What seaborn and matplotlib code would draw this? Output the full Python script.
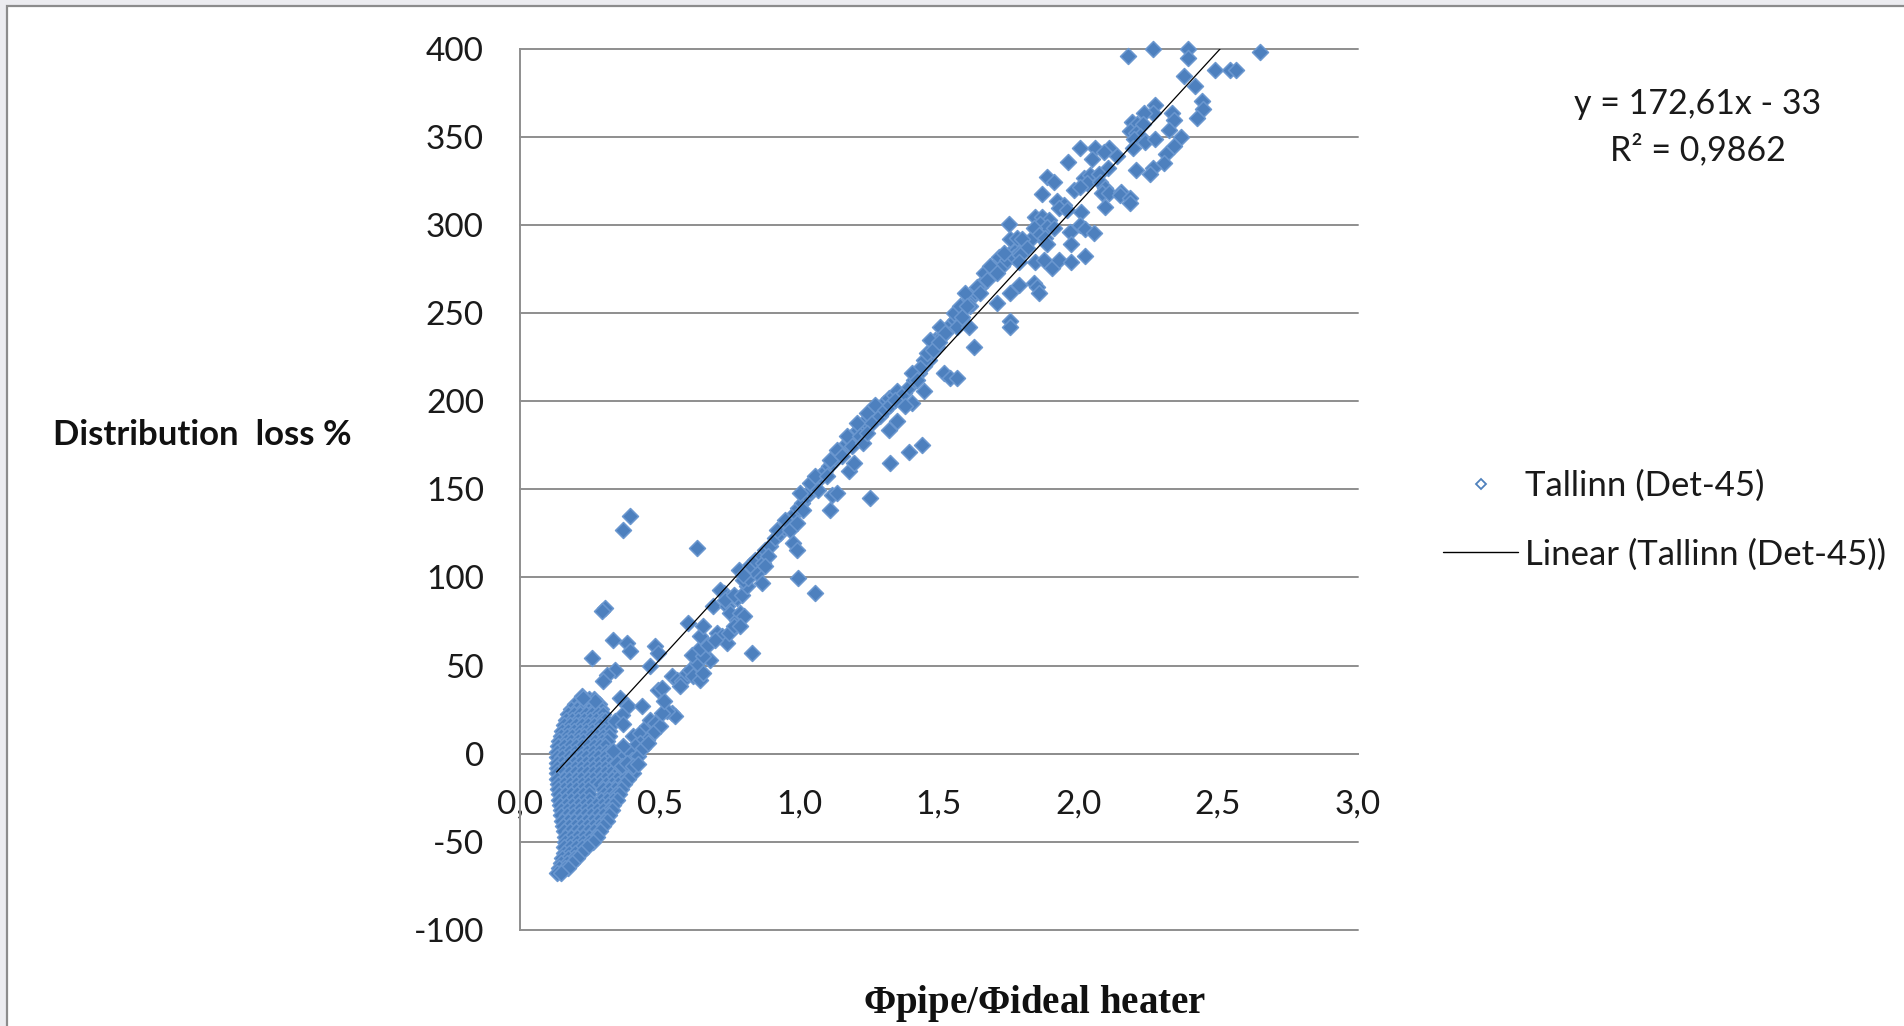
import matplotlib
matplotlib.use("Agg")
import numpy as np
import pandas as pd
import seaborn as sns
import matplotlib.pyplot as plt
from matplotlib.lines import Line2D
from matplotlib.patches import Rectangle

# ---------------------------------------------------------------------------
# Data: heat distribution loss (%) vs. ratio of pipe heat to ideal heater heat
# ---------------------------------------------------------------------------

# dense cloud of low-ratio buildings: (loss level, [ratios at that level])
cloud_rows = [
    (31.0, [0.219, 0.246, 0.266]),
    (28.2, [0.198, 0.217, 0.241, 0.260, 0.282]),
    (25.1, [0.182, 0.205, 0.224, 0.250, 0.268, 0.290]),
    (22.3, [0.171, 0.194, 0.214, 0.237, 0.257, 0.280, 0.299]),
    (19.0, [0.164, 0.185, 0.208, 0.228, 0.251, 0.271, 0.294, 0.306]),
    (16.2, [0.157, 0.180, 0.200, 0.223, 0.243, 0.266, 0.286, 0.310]),
    (13.1, [0.151, 0.172, 0.195, 0.215, 0.238, 0.258, 0.281, 0.301, 0.317]),
    (10.2, [0.146, 0.168, 0.188, 0.211, 0.231, 0.254, 0.274, 0.297, 0.319]),
    (7.0, [0.141, 0.163, 0.183, 0.206, 0.226, 0.249, 0.269, 0.292, 0.312]),
    (4.1, [0.137, 0.159, 0.179, 0.202, 0.222, 0.245, 0.265, 0.288, 0.305]),
    (1.0, [0.134, 0.155, 0.177, 0.197, 0.220, 0.240, 0.263, 0.283, 0.307, 0.322]),
    (-2.1, [0.132, 0.152, 0.175, 0.195, 0.218, 0.238, 0.261, 0.281, 0.304, 0.326]),
    (-5.0, [0.131, 0.151, 0.173, 0.194, 0.216, 0.237, 0.259, 0.280, 0.302, 0.323, 0.343]),
    (-8.1, [0.132, 0.154, 0.174, 0.197, 0.217, 0.240, 0.260, 0.283, 0.303, 0.326, 0.346, 0.362]),
    (-11.0, [0.133, 0.155, 0.176, 0.198, 0.219, 0.241, 0.262, 0.284, 0.305, 0.327, 0.348,
             0.369, 0.390, 0.405]),
    (-14.1, [0.134, 0.156, 0.177, 0.199, 0.220, 0.242, 0.263, 0.285, 0.306, 0.328, 0.349,
             0.371, 0.386]),
    (-17.0, [0.135, 0.157, 0.178, 0.200, 0.221, 0.243, 0.264, 0.286, 0.307, 0.329, 0.350, 0.372]),
    (-20.1, [0.137, 0.158, 0.180, 0.201, 0.223, 0.244, 0.296, 0.318, 0.339, 0.361]),
    (-23.0, [0.139, 0.160, 0.182, 0.203, 0.225, 0.246, 0.300, 0.321, 0.343, 0.355]),
    (-26.1, [0.141, 0.162, 0.184, 0.205, 0.227, 0.248, 0.290, 0.311, 0.333, 0.347]),
    (-29.0, [0.143, 0.164, 0.186, 0.207, 0.229, 0.250, 0.272, 0.293, 0.315, 0.333]),
    (-32.1, [0.146, 0.167, 0.189, 0.210, 0.232, 0.253, 0.275, 0.296, 0.318, 0.330]),
    (-35.0, [0.148, 0.169, 0.191, 0.212, 0.234, 0.255, 0.277, 0.298, 0.317]),
    (-38.1, [0.152, 0.173, 0.195, 0.216, 0.238, 0.259, 0.281, 0.300, 0.310]),
    (-41.0, [0.155, 0.176, 0.198, 0.219, 0.241, 0.262, 0.284, 0.297]),
    (-44.1, [0.158, 0.180, 0.201, 0.223, 0.244, 0.266, 0.287]),
    (-47.0, [0.160, 0.181, 0.203, 0.224, 0.246, 0.267, 0.275]),
    (-50.1, [0.160, 0.181, 0.203, 0.224, 0.246, 0.262]),
    (-53.0, [0.158, 0.179, 0.201, 0.222, 0.240]),
    (-56.1, [0.156, 0.177, 0.198, 0.218]),
    (-59.0, [0.151, 0.172, 0.193, 0.205]),
    (-62.1, [0.146, 0.167, 0.187]),
    (-65.0, [0.140, 0.160, 0.172]),
    (-67.5, [0.133, 0.148]),
]

# ratio 0.2 - 0.85
low_points = [
    (0.257, 54.3), (0.221, 32.6), (0.269, 29.8), (0.227, 31.7),
    (0.394, 134.7), (0.368, 127.1), (0.633, 116.7), (0.305, 82.7), (0.293, 80.8),
    (0.334, 64.7), (0.382, 62.8), (0.394, 58.1), (0.340, 47.7), (0.311, 44.9), (0.299, 41.1),
    (0.484, 61.0), (0.496, 57.2), (0.466, 49.6), (0.358, 31.7), (0.388, 27.0), (0.436, 27.0),
    (0.364, 22.2), (0.341, 18.4), (0.370, 16.6),
    (0.406, 9.9), (0.430, 11.8), (0.454, 15.6), (0.466, 19.4), (0.484, 17.5), (0.502, 15.6),
    (0.478, 11.8), (0.454, 8.0), (0.430, 6.1), (0.412, 4.3), (0.388, 1.4), (0.370, 4.3),
    (0.352, -1.4), (0.334, 1.4), (0.400, -3.3), (0.424, -1.4), (0.442, 3.3), (0.460, 6.1),
    (0.346, -5.2), (0.364, -7.1), (0.382, -5.2), (0.406, -7.1), (0.424, -6.1),
    (0.544, 23.2), (0.556, 21.3), (0.526, 24.1), (0.508, 23.2), (0.496, 36.4), (0.508, 37.3),
    (0.514, 29.8), (0.544, 43.9), (0.562, 42.1), (0.580, 41.1), (0.574, 38.3), (0.597, 45.8),
    (0.609, 47.7), (0.621, 43.9), (0.645, 42.1), (0.657, 45.8), (0.633, 51.5), (0.615, 56.2),
    (0.681, 53.4), (0.657, 55.3), (0.645, 60.0), (0.675, 61.9), (0.705, 68.5), (0.723, 66.6),
    (0.741, 62.8), (0.699, 64.7), (0.747, 68.5), (0.645, 66.6), (0.657, 72.3), (0.603, 74.2),
    (0.693, 83.6), (0.741, 83.6), (0.753, 79.9), (0.777, 76.1), (0.789, 79.9), (0.801, 78.0),
    (0.765, 72.3), (0.789, 72.3), (0.777, 88.4), (0.729, 91.2), (0.717, 93.1), (0.735, 87.4),
    (0.765, 90.3), (0.795, 90.3), (0.812, 95.0), (0.800, 98.7), (0.818, 99.7), (0.830, 57.2),
    (0.848, 102.5), (0.836, 104.4), (0.783, 104.4), (0.824, 107.3), (0.842, 110.1),
    (0.800, 101.6),
]

# ratio 0.85 - 1.4
mid_points = [
    (0.866, 112.0), (0.878, 115.8), (0.896, 117.7), (0.914, 122.4), (0.932, 125.3),
    (0.944, 128.1), (0.956, 130.9), (0.974, 132.8), (0.985, 136.6), (0.997, 139.4),
    (1.009, 142.3), (1.027, 146.0), (1.039, 148.9), (1.051, 151.7), (1.063, 154.5),
    (1.075, 157.4), (1.093, 160.2), (1.105, 163.0), (1.117, 164.9), (1.129, 167.8),
    (1.147, 170.6), (1.159, 173.4), (1.171, 176.3), (1.183, 178.2), (1.201, 181.9),
    (1.212, 183.8), (1.224, 186.7), (1.236, 188.6), (1.254, 191.4), (1.266, 193.3),
    (1.284, 196.1), (1.302, 198.9), (1.320, 201.8), (1.338, 203.7), (1.350, 205.6),
    (0.872, 108.2), (0.890, 112.0), (0.920, 127.1), (0.950, 132.8), (0.968, 127.1),
    (0.991, 130.9), (1.015, 138.5), (1.003, 147.9), (1.039, 153.6), (1.057, 157.4),
    (1.069, 149.8), (1.099, 157.4), (1.111, 166.8), (1.135, 172.5), (1.153, 168.7),
    (1.171, 180.0), (1.189, 174.4), (1.206, 187.6), (1.218, 180.0), (1.242, 193.3),
    (1.260, 187.6), (1.272, 198.0), (1.290, 191.4), (1.308, 195.2), (1.326, 198.0),
    (1.344, 200.8), (0.979, 119.6), (0.991, 115.8), (1.117, 147.0), (1.135, 147.9),
    (1.177, 160.2), (1.195, 164.9), (1.230, 176.3), (1.242, 181.9),
    (0.997, 99.7), (1.057, 90.9), (0.866, 96.9), (0.878, 106.4), (1.111, 138.5),
    (1.254, 145.1), (1.326, 164.9), (1.392, 171.0), (1.440, 175.3), (1.320, 183.8),
    (1.350, 188.6),
]

# ratio 1.35 - 1.9
upper_points = [
    (1.374, 204.5), (1.392, 208.3), (1.410, 212.1), (1.428, 215.9), (1.446, 219.7),
    (1.464, 223.4), (1.475, 227.2), (1.493, 231.0), (1.487, 234.8), (1.511, 236.7),
    (1.529, 240.5), (1.541, 243.3), (1.559, 246.1), (1.571, 249.9), (1.589, 253.7),
    (1.601, 256.5), (1.619, 259.3), (1.631, 262.2), (1.649, 265.0), (1.661, 267.9),
    (1.679, 270.7), (1.691, 273.5), (1.702, 276.4), (1.720, 279.2), (1.738, 282.0),
    (1.756, 283.9), (1.774, 284.9),
    (1.446, 223.4), (1.434, 218.7), (1.470, 234.8), (1.505, 242.3), (1.523, 238.6),
    (1.553, 249.9), (1.577, 253.7), (1.595, 261.2), (1.613, 253.7), (1.637, 265.0),
    (1.661, 272.6), (1.673, 268.8), (1.697, 274.5), (1.714, 282.0), (1.726, 276.4),
    (1.744, 280.1), (1.768, 282.0), (1.786, 283.9), (1.404, 215.9), (1.422, 212.1),
    (1.458, 227.2), (1.481, 229.1), (1.499, 233.8), (1.565, 242.3), (1.583, 248.0),
    (1.601, 253.7), (1.649, 261.2), (1.685, 276.4), (1.708, 272.6), (1.732, 283.9),
    (1.517, 215.9), (1.541, 213.1), (1.565, 213.1), (1.446, 205.5), (1.404, 198.9),
    (1.380, 197.0), (1.625, 231.0), (1.607, 242.3), (1.756, 245.2), (1.756, 242.3),
    (1.708, 255.6), (1.756, 261.2), (1.786, 266.0), (1.840, 266.9), (1.852, 265.0),
    (1.858, 261.2), (1.750, 300.5), (1.756, 291.9), (1.780, 292.4),
]

# ratio above 1.78
top_points = [
    (2.178, 395.8), (2.266, 400.0), (2.392, 400.0), (2.392, 394.8), (2.649, 398.0),
    (2.491, 387.9), (2.542, 388.0), (2.566, 388.0), (2.377, 384.5), (2.417, 379.0),
    (2.443, 370.5), (2.446, 365.8), (2.425, 360.5), (2.335, 363.7), (2.341, 359.5),
    (2.323, 353.9), (2.366, 350.0), (2.344, 345.0), (2.312, 340.2), (2.306, 335.3),
    (2.266, 332.5), (2.258, 328.7), (2.206, 331.2), (2.274, 368.0), (2.266, 363.3),
    (2.234, 363.7), (2.191, 358.2), (2.211, 357.0), (2.230, 357.5), (2.185, 353.4),
    (2.206, 352.0), (2.222, 350.5), (2.198, 348.6), (2.237, 347.0), (2.274, 348.8),
    (2.195, 343.5), (2.109, 343.8), (2.061, 343.8), (2.007, 343.8), (2.091, 341.6),
    (2.047, 337.3), (2.139, 339.0), (1.963, 335.5), (2.105, 332.5), (1.888, 327.4),
    (1.911, 324.5), (2.019, 326.6), (2.043, 328.3), (2.073, 328.9), (2.031, 323.8),
    (1.983, 319.8), (2.007, 321.7), (1.870, 317.4), (1.924, 313.6), (1.947, 311.3),
    (1.929, 309.5), (1.959, 308.5), (2.079, 324.5), (2.097, 320.8), (2.085, 318.0),
    (2.109, 318.0), (2.151, 318.9), (2.149, 317.0), (2.010, 307.5), (2.097, 310.4),
    (2.186, 315.5), (2.186, 312.3), (1.846, 304.7), (1.869, 304.4), (1.893, 303.0),
    (1.864, 300.5), (1.888, 298.6), (1.840, 298.0), (1.911, 298.0), (1.858, 294.3),
    (1.882, 292.4), (1.828, 291.3), (1.798, 291.8), (1.971, 296.2), (1.975, 289.0),
    (2.007, 300.0), (2.025, 297.6), (2.057, 295.3), (1.888, 289.0), (1.816, 286.8),
    (1.846, 279.2), (1.876, 280.2), (1.906, 275.5), (1.929, 280.2), (1.974, 278.9),
    (2.023, 282.4), (1.792, 283.0), (1.786, 279.0),
]

# linear trendline fitted in the spreadsheet
trend_slope = 172.61
trend_intercept = -33.0
trend_r2 = 0.9862

x_ticks = [0.0, 0.5, 1.0, 1.5, 2.0, 2.5, 3.0]
x_tick_labels = ["0,0", "0,5", "1,0", "1,5", "2,0", "2,5", "3,0"]
y_ticks = [-100, -50, 0, 50, 100, 150, 200, 250, 300, 350, 400]
y_tick_labels = ["-100", "-50", "0", "50", "100", "150", "200", "250", "300", "350", "400"]

series_name = "Tallinn (Det-45)"
trend_name = "Linear (Tallinn (Det-45))"

# ---------------------------------------------------------------------------
cloud_points = [(x, y) for y, xs in cloud_rows for x in xs]
all_points = cloud_points + low_points + mid_points + upper_points + top_points
df = pd.DataFrame(all_points, columns=["ratio", "loss"])

sns.set_style("white")
plt.rcParams["font.family"] = ["Lato", "DejaVu Sans"]
plt.rcParams["mathtext.fontset"] = "custom"
plt.rcParams["mathtext.it"] = "Liberation Serif:italic:bold"
plt.rcParams["mathtext.rm"] = "Liberation Serif:bold"

W, H = 1904, 1026
fig = plt.figure(figsize=(W / 100, H / 100), dpi=100, facecolor="#ececf0")
# white chart sheet with its grey frame
fig.add_artist(Rectangle((7 / W, -0.05), 1.2, 1.05 - 6 / H, transform=fig.transFigure,
                         facecolor="white", edgecolor="#8c8c8c", linewidth=1.6, zorder=0))

ax = fig.add_axes([520 / W, 1 - 930 / H, (1357.6 - 520) / W, (930 - 48.6) / H])
ax.set_facecolor("white")

grid_col = "#8e8e8e"
blue = "#4f81bd"
text_col = "#1a1a1a"

sns.scatterplot(data=df, x="ratio", y="loss", ax=ax, marker="D", s=66,
                color="#4d80be", edgecolor="#6a97cf", linewidth=1.1,
                legend=False, zorder=3, clip_on=False)

x_lo, x_hi = df["ratio"].min(), df["ratio"].max()
trend_x = [x_lo, x_hi]
trend_y = [trend_slope * v + trend_intercept for v in trend_x]
sns.lineplot(x=trend_x, y=trend_y, ax=ax, color="black", linewidth=0.9, zorder=4)

ax.set_xlim(0, 3)
ax.set_ylim(-100, 400)
ax.set_xticks(x_ticks)
ax.set_xticklabels(x_tick_labels)
ax.set_yticks(y_ticks)
ax.set_yticklabels(y_tick_labels)
ax.set_xlabel("")
ax.set_ylabel("")

ax.yaxis.grid(True, color=grid_col, linewidth=1.4)
ax.xaxis.grid(False)
for gl in ax.get_ygridlines():
    gl.set_clip_on(False)
ax.set_axisbelow(True)

for side in ("top", "right"):
    ax.spines[side].set_visible(False)
ax.spines["left"].set_color(grid_col)
ax.spines["left"].set_linewidth(1.4)
ax.spines["bottom"].set_position(("data", 0))
ax.spines["bottom"].set_color(grid_col)
ax.spines["bottom"].set_linewidth(1.4)

ax.tick_params(axis="x", direction="out", length=12, width=1.4, color=grid_col,
               pad=14, labelsize=24, labelcolor=text_col)
ax.tick_params(axis="y", direction="out", length=10, width=1.4, color=grid_col,
               pad=16, labelsize=24, labelcolor=text_col)

fig.text(53 / W, 1 - 435 / H, "Distribution  loss %", ha="left", va="center",
         fontsize=25, fontweight="bold", color="#111111")
fig.text(1035 / W, 1 - 1013 / H, r"$\mathit{\Phi}$pipe/$\mathit{\Phi}$ideal heater",
         ha="center", va="baseline", fontsize=28, fontweight="bold",
         family="Liberation Serif", color="#111111")

eq = f"y = {trend_slope:.2f}x - {abs(trend_intercept):.0f}".replace(".", ",")
r2 = f"R² = {trend_r2:.4f}".replace(".", ",")
fig.text(1698 / W, 1 - 104 / H, eq, ha="center", va="center", fontsize=24.5, color=text_col)
fig.text(1698 / W, 1 - 150 / H, r2, ha="center", va="center", fontsize=24.5, color=text_col)

handles = [
    Line2D([], [], marker="D", linestyle="none", markerfacecolor="white",
           markeredgecolor=blue, markersize=5, markeredgewidth=1.3),
    Line2D([], [], color="black", linewidth=1.0),
]
fig.legend(handles, [series_name, trend_name], loc="upper left",
           bbox_to_anchor=(1443 / W, 1 - 470 / H), frameon=False, fontsize=25,
           handlelength=2.16, handletextpad=0.2, labelspacing=1.04,
           borderpad=0, borderaxespad=0, labelcolor=text_col)

fig.savefig("out.png", dpi=100, facecolor=fig.get_facecolor())
